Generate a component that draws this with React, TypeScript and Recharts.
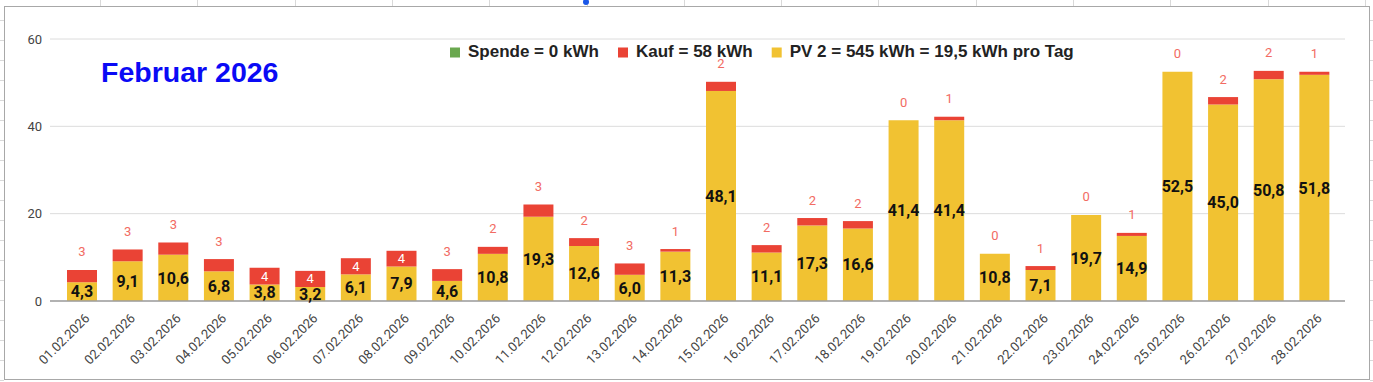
import React from 'react';
import { BarChart, Bar, XAxis, YAxis, CartesianGrid, LabelList } from 'recharts';

const days = [
  '01.02.2026', '02.02.2026', '03.02.2026', '04.02.2026', '05.02.2026', '06.02.2026', '07.02.2026',
  '08.02.2026', '09.02.2026', '10.02.2026', '11.02.2026', '12.02.2026', '13.02.2026', '14.02.2026',
  '15.02.2026', '16.02.2026', '17.02.2026', '18.02.2026', '19.02.2026', '20.02.2026', '21.02.2026',
  '22.02.2026', '23.02.2026', '24.02.2026', '25.02.2026', '26.02.2026', '27.02.2026', '28.02.2026',
];
const pv = [4.3, 9.1, 10.6, 6.8, 3.8, 3.2, 6.1, 7.9, 4.6, 10.8, 19.3, 12.6, 6.0, 11.3, 48.1, 11.1, 17.3, 16.6, 41.4, 41.4, 10.8, 7.1, 19.7, 14.9, 52.5, 45.0, 50.8, 51.8];
const kauf = [2.8, 2.7, 2.8, 2.8, 3.8, 3.7, 3.7, 3.6, 2.7, 1.6, 2.8, 1.8, 2.6, 0.6, 2.1, 1.7, 1.7, 1.7, 0, 0.8, 0, 0.9, 0, 0.7, 0, 1.7, 1.9, 0.7];
const spende = [0, 0, 0, 0, 0, 0, 0, 0, 0, 0, 0, 0, 0, 0, 0, 0, 0, 0, 0, 0, 0, 0, 0, 0, 0, 0, 0, 0];
const yTicks = [0, 20, 40, 60];
const titleText = 'Februar 2026';
const legendItems = [
  { label: 'Spende = 0 kWh', color: '#6aa84f' },
  { label: 'Kauf = 58 kWh', color: '#ea4335' },
  { label: 'PV 2 = 545 kWh = 19,5 kWh pro Tag', color: '#f1c232' },
];

const data = days.map((d, i) => ({ day: d, pv: pv[i], kauf: kauf[i], spende: spende[i] }));

const W = 1373;
const H = 382;

const XTick = (props: any) => {
  const { x, y, payload } = props;
  const ax = x + 8.5;
  const ay = y + 10;
  return (
    <g transform={`translate(${ax},${ay})`}>
      <text
        x={0}
        y={0}
        transform="rotate(-45)"
        textAnchor="end"
        fontSize={13}
        fontFamily="Roboto, Arial, sans-serif"
        fill="#444"
      >
        {payload.value}
      </text>
    </g>
  );
};

// Kauf label drawn on the PV bar geometry: the red segment height follows the PV bar's own scale
const KaufLabel = (props: any) => {
  const { x, y, width, height, index } = props;
  const k = kauf[index];
  const p = pv[index];
  if (k === undefined || !p) return null;
  const ppu = height / p;
  const segH = k * ppu;
  const segTop = y - segH;
  const txt = String(Math.round(k));
  const cx = x + width / 2;
  if (segH >= 14) {
    return (
      <text x={cx} y={segTop + segH / 2} dy={4.5} textAnchor="middle" fontSize={13} fontFamily="Roboto, Arial, sans-serif" fill="#ffffff">
        {txt}
      </text>
    );
  }
  return (
    <text x={cx} y={segTop - 18} dy={4.5} textAnchor="middle" fontSize={13} fontFamily="Roboto, Arial, sans-serif" fill="#f26b63">
      {txt}
    </text>
  );
};

const fmt = (v: any) => Number(v).toFixed(1).replace('.', ',');

export default function App() {
  const colLines: number[] = [];
  for (let cx = 100; cx < W; cx += 97.3) colLines.push(Math.round(cx));
  const rowLines: number[] = [];
  for (let ry = 20; ry < H; ry += 20) rowLines.push(ry);

  return (
    <div style={{ position: 'absolute', left: 0, top: 0, width: W, height: H, background: '#fff', overflow: 'hidden', fontFamily: 'Roboto, Arial, sans-serif' }}>
      {colLines.map((cx) => (
        <div key={'c' + cx} style={{ position: 'absolute', left: cx, top: 0, width: 1, height: 6, background: '#d9d9d9' }} />
      ))}
      {rowLines.map((ry) => (
        <div key={'l' + ry} style={{ position: 'absolute', left: 0, top: ry, width: 4, height: 1, background: '#d9d9d9' }} />
      ))}
      {rowLines.map((ry) => (
        <div key={'r' + ry} style={{ position: 'absolute', left: 1370, top: ry, width: 3, height: 1, background: '#d9d9d9' }} />
      ))}
      <div style={{ position: 'absolute', left: 4, top: 6, width: 1364, height: 372, border: '1px solid #a8a8a8', background: '#fff' }} />
      <div style={{ position: 'absolute', left: 583, top: -1, width: 6, height: 6, borderRadius: 3, background: '#1a57e8' }} />

      <div style={{ position: 'absolute', left: 0, top: 0 }}>
        <BarChart width={W} height={H} data={data} margin={{ top: 39, right: 28, left: 0, bottom: 0 }} barSize={30}>
          <CartesianGrid vertical={false} stroke="#dcdcdc" strokeWidth={1} />
          <XAxis
            dataKey="day"
            interval={0}
            height={81}
            padding={{ left: 9, right: 8 }}
            tickLine={false}
            axisLine={{ stroke: '#9e9e9e', strokeWidth: 1.5 }}
            tick={<XTick />}
          />
          <YAxis
            width={50}
            domain={[0, 60]}
            ticks={yTicks}
            interval={0}
            axisLine={false}
            tickLine={false}
            tick={{ fontSize: 13, fill: '#444', fontFamily: 'Roboto, Arial, sans-serif' }}
          />
          <Bar dataKey="pv" stackId="a" fill="#f1c232" isAnimationActive={false}>
            <LabelList dataKey="pv" position="center" formatter={fmt} fill="#111" fontSize={16} fontWeight="bold" fontFamily="Roboto, Arial, sans-serif" />
            <LabelList dataKey="kauf" content={<KaufLabel />} />
          </Bar>
          <Bar dataKey="kauf" stackId="a" fill="#ea4335" isAnimationActive={false} />
          <Bar dataKey="spende" stackId="a" fill="#6aa84f" isAnimationActive={false} />
        </BarChart>
      </div>

      <svg width={W} height={H} style={{ position: 'absolute', left: 0, top: 0, pointerEvents: 'none' }}>
        <text x={101} y={82} fontSize={28.5} fontWeight="bold" fontFamily="'Liberation Sans', Arial, sans-serif" fill="#0a0af5">
          {titleText}
        </text>
        {(() => {
          const items: any[] = [];
          let cx = 450;
          const widths = [131, 116.7, 280.5];
          legendItems.forEach((it, i) => {
            items.push(<rect key={'s' + i} x={cx} y={47.5} width={10} height={10} fill={it.color} />);
            items.push(
              <text key={'t' + i} x={cx + 18} y={57.3} fontSize={17} fontWeight="bold" fontFamily="'Liberation Sans', Arial, sans-serif" fill="#222">
                {it.label}
              </text>
            );
            cx += 18 + widths[i] + 19;
          });
          return items;
        })()}
      </svg>
    </div>
  );
}
